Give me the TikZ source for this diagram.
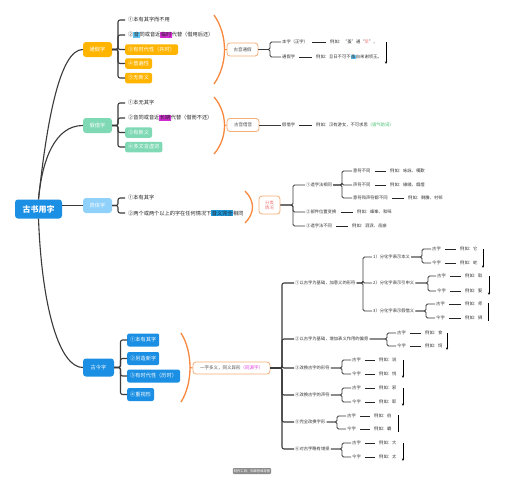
\documentclass[tikz,border=0pt]{standalone}
\usepackage{fontspec}
\setmainfont{Noto Sans CJK SC}
\usetikzlibrary{arrows.meta}
\definecolor{linec}{HTML}{3A3A3A}
\definecolor{rootblue}{HTML}{1A8FE3}
\definecolor{tjor}{HTML}{FFB400}
\definecolor{jjgr}{HTML}{7ED9B4}
\definecolor{ytbl}{HTML}{8FD1FA}
\definecolor{braceor}{HTML}{F7883E}
\definecolor{boxor}{HTML}{F5AE78}
\definecolor{hlmag}{HTML}{D12BD1}
\definecolor{hlblue}{HTML}{5EC4F5}
\definecolor{hlcyan}{HTML}{1E9BE0}
\definecolor{txtgreen}{HTML}{3CBF6A}
\definecolor{txtmag}{HTML}{E040E0}
\definecolor{txtred}{HTML}{F07070}
\newcommand\hlx[2]{{\setlength{\fboxsep}{0.5pt}\colorbox{#1}{#2}}}
\begin{document}
\begin{tikzpicture}[x=1pt,y=-1pt,
 conn/.style={draw=linec,line width=1.1pt,rounded corners=2pt},
 conn2/.style={draw=linec,line width=0.9pt,rounded corners=1.5pt},
 dl/.style={draw=black!85,line width=0.6pt,shorten <=3pt,shorten >=3pt},
 arr/.style={draw=black,line width=0.6pt,-{Stealth[length=2.6pt,width=2.2pt]}},
 plainv/.style={draw=black,line width=0.6pt},
 brace/.style={draw=braceor,line width=1.3pt},
 lone/.style={rounded corners=3pt,minimum width=29pt,minimum height=15pt,inner sep=1pt,text=white,font=\fontsize{5.2}{6}\selectfont},
 t2/.style={anchor=west,inner xsep=3pt,inner ysep=1.5pt,font=\fontsize{5.2}{6}\selectfont,text=black!85},
 fb/.style={t2,rounded corners=2pt,text=white,minimum height=10.5pt},
 t3/.style={anchor=west,inner sep=1pt,font=\fontsize{4.3}{5}\selectfont,text=black!80},
 obox/.style={draw=boxor,line width=0.8pt,fill=white,rounded corners=3pt,text=black!70,font=\fontsize{4.5}{5.5}\selectfont,inner sep=1pt}]
\useasboundingbox[fill=white] (0,0) rectangle (505,479);

% root and first level
\node[fill=rootblue,rounded corners=3pt,minimum width=47pt,minimum height=19pt,text=white,font=\fontsize{8}{9}\selectfont\bfseries] (root) at (38.5,209) {古书用字};
\node[lone,fill=tjor] (tj) at (97.5,49.5) {通假字};
\node[lone,fill=jjgr] (jj) at (97.5,125.5) {假借字};
\node[lone,fill=ytbl] (yt) at (97.5,205.5) {异体字};
\node[lone,fill=rootblue,minimum width=31pt,minimum height=18pt] (gj) at (98.5,367.5) {古今字};
\draw[conn] (root.north) .. controls (47,120) and (60,49.5) .. (tj.west);
\draw[conn] (root.north) .. controls (42,160) and (55,125.5) .. (jj.west);
\draw[conn] (root.east |- yt.west) -- (yt.west);
\draw[conn] (root.south) .. controls (42,310) and (60,367.5) .. (gj.west);

% 通假字
\node[t2] (tj1) at (125,20) {①本有其字而不用};
\node[t2] (tj2) at (125,35) {②\hlx{hlblue}{音}同或音近\hlx{hlmag}{临时}代替（借用后还）};
\node[fb,fill=tjor] (tj3) at (125,49.5) {③有时代性（共时）};
\node[fb,fill=tjor] (tj4) at (125,63.5) {④普遍性};
\node[fb,fill=tjor] (tj5) at (125,78) {⑤无新义};
\coordinate (tjb) at (118,49.5);
\foreach \c in {tj1,tj2,tj3,tj4,tj5} \draw[conn] (tj.east) -- (tjb) |- (\c.west);

\draw[brace] (214,15) .. controls (228,35) and (228,64) .. (214,84);
\node[obox,minimum width=31pt,minimum height=13pt] (gytj) at (242.5,49.5) {古音通假};
\draw[brace,line width=1pt] (224.5,49.5) -- (gytj.west);
\node[t3] (bz) at (281,42) {本字（正字）};
\node[t3] (tjz) at (281,57) {通假字};
\coordinate (gytjb) at (270,49.5);
\foreach \c in {bz,tjz} \draw[conn2] (gytj.east) -- (gytjb) |- (\c.west);
\node[t3] (bzex) at (329,42) {例如：“蚤”通“\textcolor{txtred}{早}”，};
\node[t3] (tjzex) at (315,57) {例如：旦日不可不\hlx{hlblue}{蚤}自来谢项王。};
\draw[dl] (bz.east) -- (bzex.west);
\draw[dl] (tjz.east) -- (tjzex.west);
\draw[arr] (386,42) -- (386,64);

% 假借字
\node[t2] (jj1) at (125,103) {①本无其字};
\node[t2] (jj2) at (125,118) {②音同或音近\hlx{hlmag}{长期}代替（借而不还）};
\node[fb,fill=jjgr] (jj3) at (125,132.5) {③有新义};
\node[fb,fill=jjgr] (jj4) at (125,147) {④多文言虚词};
\coordinate (jjb) at (118,125.5);
\foreach \c in {jj1,jj2,jj3,jj4} \draw[conn] (jj.east) -- (jjb) |- (\c.west);

\draw[brace] (214,97) .. controls (228,113) and (228,138) .. (214,154);
\node[obox,minimum width=32pt,minimum height=13pt] (gyjy) at (243,125) {古音借音};
\draw[brace,line width=1pt] (224.5,125.5) -- (gyjy.west);
\node[t3] (jjz) at (281,125) {假借字};
\draw[conn2] (gyjy.east) -- (jjz.west);
\node[t3] (jjzex) at (315,125) {例如：汉有游女，不可求思\textcolor{txtgreen}{（语气助词）}};
\draw[dl] (jjz.east) -- (jjzex.west);

% 异体字
\node[t2] (yt1) at (125,198) {①本有其字};
\node[t2] (yt2) at (125,213) {②两个或两个以上的字在任何情况下\hlx{hlcyan}{音义完全}相同};
\coordinate (ytb) at (118,205.5);
\foreach \c in {yt1,yt2} \draw[conn] (yt.east) -- (ytb) |- (\c.west);

\draw[brace] (245,191) .. controls (255,201) and (255,213) .. (245,223);
\node[obox,minimum width=21pt,minimum height=18pt,align=center,text=txtred,font=\fontsize{4.3}{5}\selectfont] (fl) at (269.5,205) {分类\\情况};
\coordinate (flb) at (293,205);
\node[t3] (ya) at (305,185) {①造字法相同};
\node[t3] (yb) at (305,212) {②部件位置变换};
\node[t3] (yc) at (305,226) {③造字法不同};
\foreach \c in {ya,yb,yc} \draw[conn2] (fl.east) -- (flb) |- (\c.west);
\coordinate (yab) at (342,185);
\node[t3] (ya1) at (352,171) {意符不同};
\node[t3] (ya2) at (352,185) {声符不同};
\node[t3] (ya3) at (352,198) {意符和声符都不同};
\foreach \c in {ya1,ya2,ya3} \draw[conn2] (ya.east) -- (yab) |- (\c.west);
\node[t3] (ya1ex) at (389,171) {例如：咏詠、嘆歎};
\node[t3] (ya2ex) at (389,185) {例如：線綫、烟煙};
\node[t3] (ya3ex) at (407,198) {例如：剩賸、村邨};
\node[t3] (ybex) at (356,212) {例如：峰峯、和咊};
\node[t3] (ycex) at (351,226) {例如：泪淚、岳嶽};
\draw[dl] (ya1) -- (ya1ex);
\draw[dl] (ya2) -- (ya2ex);
\draw[dl] (ya3) -- (ya3ex);
\draw[dl] (yb) -- (ybex);
\draw[dl] (yc) -- (ycex);

% 古今字
\node[fb,fill=rootblue,minimum height=13pt] (gj1) at (127,340) {①本有其字};
\node[fb,fill=rootblue,minimum height=13pt] (gj2) at (127,358.5) {②另造新字};
\node[fb,fill=rootblue,minimum height=13pt] (gj3) at (127,376) {③有时代性（历时）};
\node[fb,fill=rootblue,minimum height=13pt] (gj4) at (127,394.5) {④重视形};
\coordinate (gjb) at (120.5,367.5);
\foreach \c in {gj1,gj2,gj3,gj4} \draw[conn] (gj.east) -- (gjb) |- (\c.west);

\draw[brace] (181,333) .. controls (193,352) and (193,383) .. (181,402);
\node[obox,minimum width=77pt,minimum height=12pt] (yz) at (231.5,368) {一字多义，同义异形\textcolor{txtmag}{（同源字）}};
\draw[brace,line width=1pt] (190,367.5) -- (yz.west);
\coordinate (yzb) at (282,368);
\node[t3] (g1) at (294,283) {①以古字为基础，加意义的形符};
\node[t3] (g2) at (294,339) {②以古字为基础，增加表义作用的偏旁};
\node[t3] (g3) at (294,368) {③改换古字的形符};
\node[t3] (g4) at (294,395) {④改换古字的声符};
\node[t3] (g5) at (294,422) {⑤完全改换字形};
\node[t3] (g6) at (294,449) {⑥对古字略有增损};
\foreach \c in {g1,g2,g3,g4,g5,g6} \draw[conn] (yz.east) -- (yzb) |- (\c.west);

% g1 subtree
\coordinate (g1b) at (363,283);
\node[t3] (s1) at (372,257) {1）分化字表示本义};
\node[t3] (s2) at (372,283) {2）分化字表示引申义};
\node[t3] (s3) at (372,311) {3）分化字表示假借义};
\foreach \c in {s1,s2,s3} \draw[conn2] (g1.east) -- (g1b) |- (\c.west);

\coordinate (s1b) at (422,257);
\node[t3] (s1g) at (431,249) {古字};
\node[t3] (s1j) at (431,263) {今字};
\foreach \c in {s1g,s1j} \draw[conn2] (s1.east) -- (s1b) |- (\c.west);
\node[t3] (s1ge) at (459,249) {例如：它};
\node[t3] (s1je) at (459,263) {例如：蛇};
\draw[dl] (s1g) -- (s1ge); \draw[dl] (s1j) -- (s1je);
\draw[arr] (483,249) -- (483,268);

\coordinate (s2b) at (428,283);
\node[t3] (s2g) at (436,276) {古字};
\node[t3] (s2j) at (436,291) {今字};
\foreach \c in {s2g,s2j} \draw[conn2] (s2.east) -- (s2b) |- (\c.west);
\node[t3] (s2ge) at (464,276) {例如：取};
\node[t3] (s2je) at (464,291) {例如：娶};
\draw[dl] (s2g) -- (s2ge); \draw[dl] (s2j) -- (s2je);
\draw[arr] (489,276) -- (489,295);

\coordinate (s3b) at (426,311);
\node[t3] (s3g) at (435,304) {古字};
\node[t3] (s3j) at (435,318) {今字};
\foreach \c in {s3g,s3j} \draw[conn2] (s3.east) -- (s3b) |- (\c.west);
\node[t3] (s3ge) at (464,304) {例如：师};
\node[t3] (s3je) at (464,318) {例如：狮};
\draw[dl] (s3g) -- (s3ge); \draw[dl] (s3j) -- (s3je);
\draw[plainv] (488,303) -- (488,321);

% g2..g6 subtrees
\coordinate (g2b) at (387,339);
\node[t3] (g2g) at (396,333) {古字};
\node[t3] (g2j) at (396,346) {今字};
\foreach \c in {g2g,g2j} \draw[conn2] (g2.east) -- (g2b) |- (\c.west);
\node[t3] (g2ge) at (424,333) {例如：食};
\node[t3] (g2je) at (424,346) {例如：饲};
\draw[dl] (g2g) -- (g2ge); \draw[dl] (g2j) -- (g2je);
\draw[arr] (447,333) -- (447,350);

\coordinate (g3b) at (342,368);
\node[t3] (g3g) at (351,360) {古字};
\node[t3] (g3j) at (351,374) {今字};
\foreach \c in {g3g,g3j} \draw[conn2] (g3.east) -- (g3b) |- (\c.west);
\node[t3] (g3ge) at (378,360) {例如：说};
\node[t3] (g3je) at (378,374) {例如：悦};
\draw[dl] (g3g) -- (g3ge); \draw[dl] (g3j) -- (g3je);
\draw[arr] (403,360) -- (403,378);

\coordinate (g4b) at (342,395);
\node[t3] (g4g) at (351,388) {古字};
\node[t3] (g4j) at (351,402) {今字};
\foreach \c in {g4g,g4j} \draw[conn2] (g4.east) -- (g4b) |- (\c.west);
\node[t3] (g4ge) at (378,388) {例如：邪};
\node[t3] (g4je) at (378,402) {例如：耶};
\draw[dl] (g4g) -- (g4ge); \draw[dl] (g4j) -- (g4je);
\draw[arr] (403,388) -- (403,406);

\coordinate (g5b) at (337,422);
\node[t3] (g5g) at (346,416) {古字};
\node[t3] (g5j) at (346,429) {今字};
\foreach \c in {g5g,g5j} \draw[conn2] (g5.east) -- (g5b) |- (\c.west);
\node[t3] (g5ge) at (373,416) {例如：伯};
\node[t3] (g5je) at (373,429) {例如：霸};
\draw[dl] (g5g) -- (g5ge); \draw[dl] (g5j) -- (g5je);
\draw[plainv] (398,415) -- (398,432);

\coordinate (g6b) at (342,449);
\node[t3] (g6g) at (351,443) {古字};
\node[t3] (g6j) at (351,457) {今字};
\foreach \c in {g6g,g6j} \draw[conn2] (g6.east) -- (g6b) |- (\c.west);
\node[t3] (g6ge) at (378,443) {例如：大};
\node[t3] (g6je) at (378,457) {例如：太};
\draw[dl] (g6g) -- (g6ge); \draw[dl] (g6j) -- (g6je);
\draw[arr] (403,443) -- (403,461);

% footer
\node[fill=black!45,rounded corners=1pt,text=white,font=\fontsize{3.3}{4}\selectfont,inner sep=1pt,minimum height=6pt] (ft) at (252,471) {制作工具：知犀思维导图};
\end{tikzpicture}
\end{document}
